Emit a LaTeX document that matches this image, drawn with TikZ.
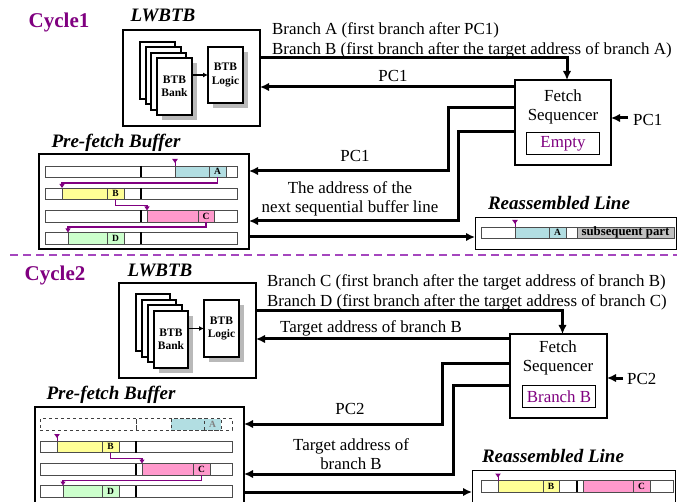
\documentclass[tikz,border=0pt]{standalone}
\usepackage{fontspec}
\setmainfont{Liberation Serif}
\usetikzlibrary{arrows.meta}
\definecolor{purp}{RGB}{128,0,128}
\definecolor{dashp}{RGB}{165,70,190}
\definecolor{cyanc}{RGB}{178,222,226}
\definecolor{yelc}{RGB}{255,255,150}
\definecolor{pnkc}{RGB}{255,153,204}
\definecolor{grnc}{RGB}{204,255,204}
\definecolor{gryc}{RGB}{192,192,192}
\begin{document}
\begin{tikzpicture}[x=1pt,y=-1pt,
  lbl/.style={font=\fontsize{16.9}{19.5}\selectfont, inner sep=0pt, align=center},
  cyc/.style={font=\bfseries\fontsize{21}{24}\selectfont, text=purp, inner sep=0pt},
  ttl/.style={font=\bfseries\itshape\fontsize{19}{21}\selectfont, inner sep=0pt},
  bigbox/.style={draw, line width=1.7pt, anchor=north west, inner sep=0pt, outer sep=0pt},
  card/.style={draw, line width=1.1pt, fill=white, anchor=north west, minimum width=35pt, minimum height=57pt, inner sep=0pt, outer sep=0pt, align=center, font=\bfseries\fontsize{11.5}{13.5}\selectfont},
  shade/.style={fill=gray!55},
  conn/.style={line width=3pt, -{Latex[length=9pt,width=8.5pt]}},
  smallarr/.style={line width=1.1pt, -{Latex[length=5pt,width=5pt]}},
  seg/.style={draw=black!70, line width=0.8pt, anchor=north west, inner sep=0pt, outer sep=0pt, minimum height=11.5pt, font=\bfseries\fontsize{9.5}{9.5}\selectfont},
  dseg/.style={seg, dashed, draw=black!75},
  divl/.style={line width=1.7pt},
  pconn/.style={purp, line width=1.1pt, -{Triangle[length=4pt,width=5pt]}},
  pics/pmarker/.style={code={\draw[purp, line width=0.9pt] (0,-6) -- (0,0); \fill[purp] (-2.8,-7) -- (2.8,-7) -- (0,-3) -- cycle;}}
]
\clip (0,0) rectangle (677,502);
\fill[white] (0,0) rectangle (677,502);

% ================= CYCLE 1 =================
\node[cyc] (cyc1) at (59,22) {Cycle1};
\node[ttl] (lw1t) at (163,15) {LWBTB};
\node[bigbox, minimum width=137pt, minimum height=96pt] (lw1) at (123,30) {};
\node[card] (bk1a) at (140,42) {};
\node[card] (bk1b) at (146,47) {};
\node[card] (bk1c) at (151,53) {};
\fill[shade] (162,63) rectangle (197,120);
\node[card] (bank1) at (157,58) {BTB\\Bank};
\fill[shade] (213,52) rectangle (248,108);
\node[card, minimum height=56pt] (logic1) at (208,47) {BTB\\Logic};
\draw[smallarr] (bank1.east |- logic1.west) -- (logic1.west);

\node[lbl, anchor=west] (brA) at (272,30) {Branch A (first branch after PC1)};
\node[lbl, anchor=west] (brB) at (272,50) {Branch B (first branch after the target address of branch A)};

\node[bigbox, minimum width=96pt, minimum height=85pt] (fs1) at (515,80) {};
\node[lbl] (fs1t) at (563,107) {Fetch\\Sequencer};
\node[draw, line width=1pt, anchor=north west, minimum width=73pt, minimum height=22pt, inner sep=0pt, text=purp, font=\fontsize{16.9}{19}\selectfont] (emp1) at (526,132) {Empty};
\coordinate (pcin1) at (628,118);
\draw[conn] (pcin1) -- (fs1.east |- pcin1);
\node[lbl, anchor=west] (pcin1t) at (633,120) {PC1};

\draw[conn] (lw1.east |- 0,58) -| ([xshift=4pt]fs1.north);
\draw[conn] (fs1.west |- 0,87) -- (lw1.east |- 0,87);
\node[lbl] (pc1a) at (393,76) {PC1};

% Pre-fetch buffer 1
\node[ttl] (pb1t) at (116,143) {Pre-fetch Buffer};
\node[bigbox, minimum width=210pt, minimum height=95pt] (pb1) at (39,154) {};
\node[seg, minimum width=192pt] (row11) at (45,166) {};
\node[seg, minimum width=192pt] (row12) at (45,188) {};
\node[seg, minimum width=192pt] (row13) at (45,210.5) {};
\node[seg, minimum width=192pt] (row14) at (45,232.5) {};
\foreach \yy in {166,188,210.5,232.5} \draw[divl] (141,\yy) -- (141,\yy+11.5);
\node[seg, fill=cyanc, minimum width=34pt] (cy1) at (175,166) {};
\node[seg, fill=cyanc, minimum width=17pt] (ba1) at (209,166) {A};
\node[seg, fill=yelc, minimum width=45pt] (ye1) at (62,188) {};
\node[seg, fill=yelc, minimum width=17pt] (bb1) at (107,188) {B};
\node[seg, fill=pnkc, minimum width=51pt] (pk1) at (147,210.5) {};
\node[seg, fill=pnkc, minimum width=16pt] (bc1) at (198,210.5) {C};
\node[seg, fill=grnc, minimum width=39pt] (gr1) at (68,232.5) {};
\node[seg, fill=grnc, minimum width=17pt] (bd1) at (107,232.5) {D};
\pic at (cy1.north west) {pmarker};
\draw[pconn] (ba1.south) -- ++(0,5.5) -| (ye1.north west);
\draw[pconn] (bb1.south) -- ++(0,6) -| (pk1.north west);
\draw[pconn] (bc1.south) -- ++(0,5) -| (gr1.north west);

\draw[conn] (fs1.west |- 0,108) -- (448,108) -- (448,171) -- (pb1.east |- 0,171);
\node[lbl] (pc1b) at (355,156) {PC1};
\draw[conn] (fs1.west |- 0,132) -- (458,132) -- (458,221) -- (pb1.east |- 0,221);
\node[lbl] (nxt1) at (350,199) {The address of the\\next sequential buffer line};

% Reassembled line 1
\node[ttl] (ra1t) at (559,203) {Reassembled Line};
\node[draw, line width=1.4pt, anchor=north west, minimum width=201pt, minimum height=32pt, inner sep=0pt] (ra1) at (475,217) {};
\draw[conn] (pb1.east |- 0,237) -- (ra1.west |- 0,237);
\node[seg, minimum height=11pt, minimum width=34pt] (r1w) at (481,227) {};
\node[seg, minimum height=11pt, fill=cyanc, minimum width=34pt] (r1c) at (515,227) {};
\node[seg, minimum height=11pt, fill=cyanc, minimum width=17pt] (r1a) at (549,227) {A};
\node[seg, minimum height=11pt, minimum width=11pt] (r1x) at (566,227) {};
\node[seg, minimum height=11pt, fill=gryc, minimum width=97pt, font=\bfseries\fontsize{12.8}{11.5}\selectfont] (r1s) at (577,227) {subsequent part};
\pic at (r1c.north west) {pmarker};

% separator
\draw[dashp, line width=1.8pt, dash pattern=on 8pt off 5pt] (10,255) -- (677,255);

% ================= CYCLE 2 =================
\node[cyc] (cyc2) at (55,275) {Cycle2};
\node[ttl] (lw2t) at (160,270) {LWBTB};
\node[bigbox, minimum width=137pt, minimum height=95pt] (lw2) at (119,283) {};
\node[card, minimum width=34pt] (bk2a) at (136,294) {};
\node[card, minimum width=34pt] (bk2b) at (142,300) {};
\node[card, minimum width=34pt] (bk2c) at (148,305) {};
\fill[shade] (159,316) rectangle (193,373);
\node[card, minimum width=34pt] (bank2) at (154,311) {BTB\\Bank};
\fill[shade] (209,305) rectangle (244,362);
\node[card] (logic2) at (204,300) {BTB\\Logic};
\draw[smallarr] (bank2.east |- logic2.west) -- (logic2.west);

\node[lbl, anchor=west] (brC) at (267,282) {Branch C (first branch after the target address of branch B)};
\node[lbl, anchor=west] (brD) at (267,302) {Branch D (first branch after the target address of branch C)};

\node[bigbox, minimum width=97pt, minimum height=84pt] (fs2) at (510,334) {};
\node[lbl] (fs2t) at (558,358) {Fetch\\Sequencer};
\node[draw, line width=1pt, anchor=north west, minimum width=73pt, minimum height=22pt, inner sep=0pt, text=purp, font=\fontsize{16.9}{19}\selectfont] (bbx2) at (522,385) {Branch B};
\coordinate (pcin2) at (623,378);
\draw[conn] (pcin2) -- (fs2.east |- pcin2);
\node[lbl, anchor=west] (pcin2t) at (627,379) {PC2};

\draw[conn] (lw2.east |- 0,311) -| ([xshift=4pt]fs2.north);
\draw[conn] (fs2.west |- 0,339) -- (lw2.east |- 0,339);
\node[lbl] (tab2) at (371,328) {Target address of branch B};

% Pre-fetch buffer 2
\node[ttl] (pb2t) at (111,395) {Pre-fetch Buffer};
\node[bigbox, minimum width=209pt, minimum height=100pt] (pb2) at (35,407) {};
\node[dseg, minimum width=96pt] (row21a) at (40,418.5) {};
\node[dseg, minimum width=96pt] (row21b) at (136,418.5) {};
\node[seg, minimum width=192pt] (row22) at (40,441) {};
\node[seg, minimum width=192pt] (row23) at (40,463.5) {};
\node[seg, minimum width=192pt] (row24) at (40,485.5) {};
\foreach \yy in {441,463.5,485.5} \draw[divl] (136,\yy) -- (136,\yy+11.5);
\node[dseg, fill=cyanc, minimum width=33pt] (cy2) at (171,418.5) {};
\node[dseg, fill=cyanc, minimum width=17pt, text=gray] (ba2) at (204,418.5) {A};
\node[seg, fill=yelc, minimum width=45pt] (ye2) at (57,441) {};
\node[seg, fill=yelc, minimum width=17pt] (bb2) at (102,441) {B};
\node[seg, fill=pnkc, minimum width=51pt] (pk2) at (142,463.5) {};
\node[seg, fill=pnkc, minimum width=17pt] (bc2) at (193,463.5) {C};
\node[seg, fill=grnc, minimum width=39pt] (gr2) at (63,485.5) {};
\node[seg, fill=grnc, minimum width=17pt] (bd2) at (102,485.5) {D};
\pic at (ye2.north west) {pmarker};
\draw[pconn] (bb2.south) -- ++(0,6) -| (pk2.north west);
\draw[pconn] (bc2.south) -- ++(0,5.5) -| (gr2.north west);

\draw[conn] (fs2.west |- 0,363) -- (442,363) -- (442,424) -- (pb2.east |- 0,424);
\node[lbl] (pc2b) at (350,409) {PC2};
\draw[conn] (fs2.west |- 0,385) -- (453,385) -- (453,474) -- (pb2.east |- 0,474);
\node[lbl] (tab2b) at (351,454) {Target address of\\branch B};

% Reassembled line 2
\node[ttl] (ra2t) at (553,456) {Reassembled Line};
\node[draw, line width=1.4pt, anchor=north west, minimum width=203pt, minimum height=40pt, inner sep=0pt] (ra2) at (472,470) {};
\draw[conn] (pb2.east |- 0,492) -- (ra2.west |- 0,492);
\node[seg, minimum width=17pt] (r2w) at (481,480.5) {};
\node[seg, fill=yelc, minimum width=46pt] (r2y) at (498,480.5) {};
\node[seg, fill=yelc, minimum width=16pt] (r2b) at (543,480.5) {B};
\node[seg, minimum width=18pt] (r2x) at (559,480.5) {};
\node[seg, minimum width=6pt] (r2g) at (577,480.5) {};
\node[seg, fill=pnkc, minimum width=50pt] (r2p) at (583,480.5) {};
\node[seg, fill=pnkc, minimum width=17pt] (r2c) at (633,480.5) {C};
\node[seg, minimum width=23pt] (r2z) at (650,480.5) {};
\draw[divl] (577,480.5) -- (577,492);
\pic at (r2y.north west) {pmarker};
\end{tikzpicture}
\end{document}
